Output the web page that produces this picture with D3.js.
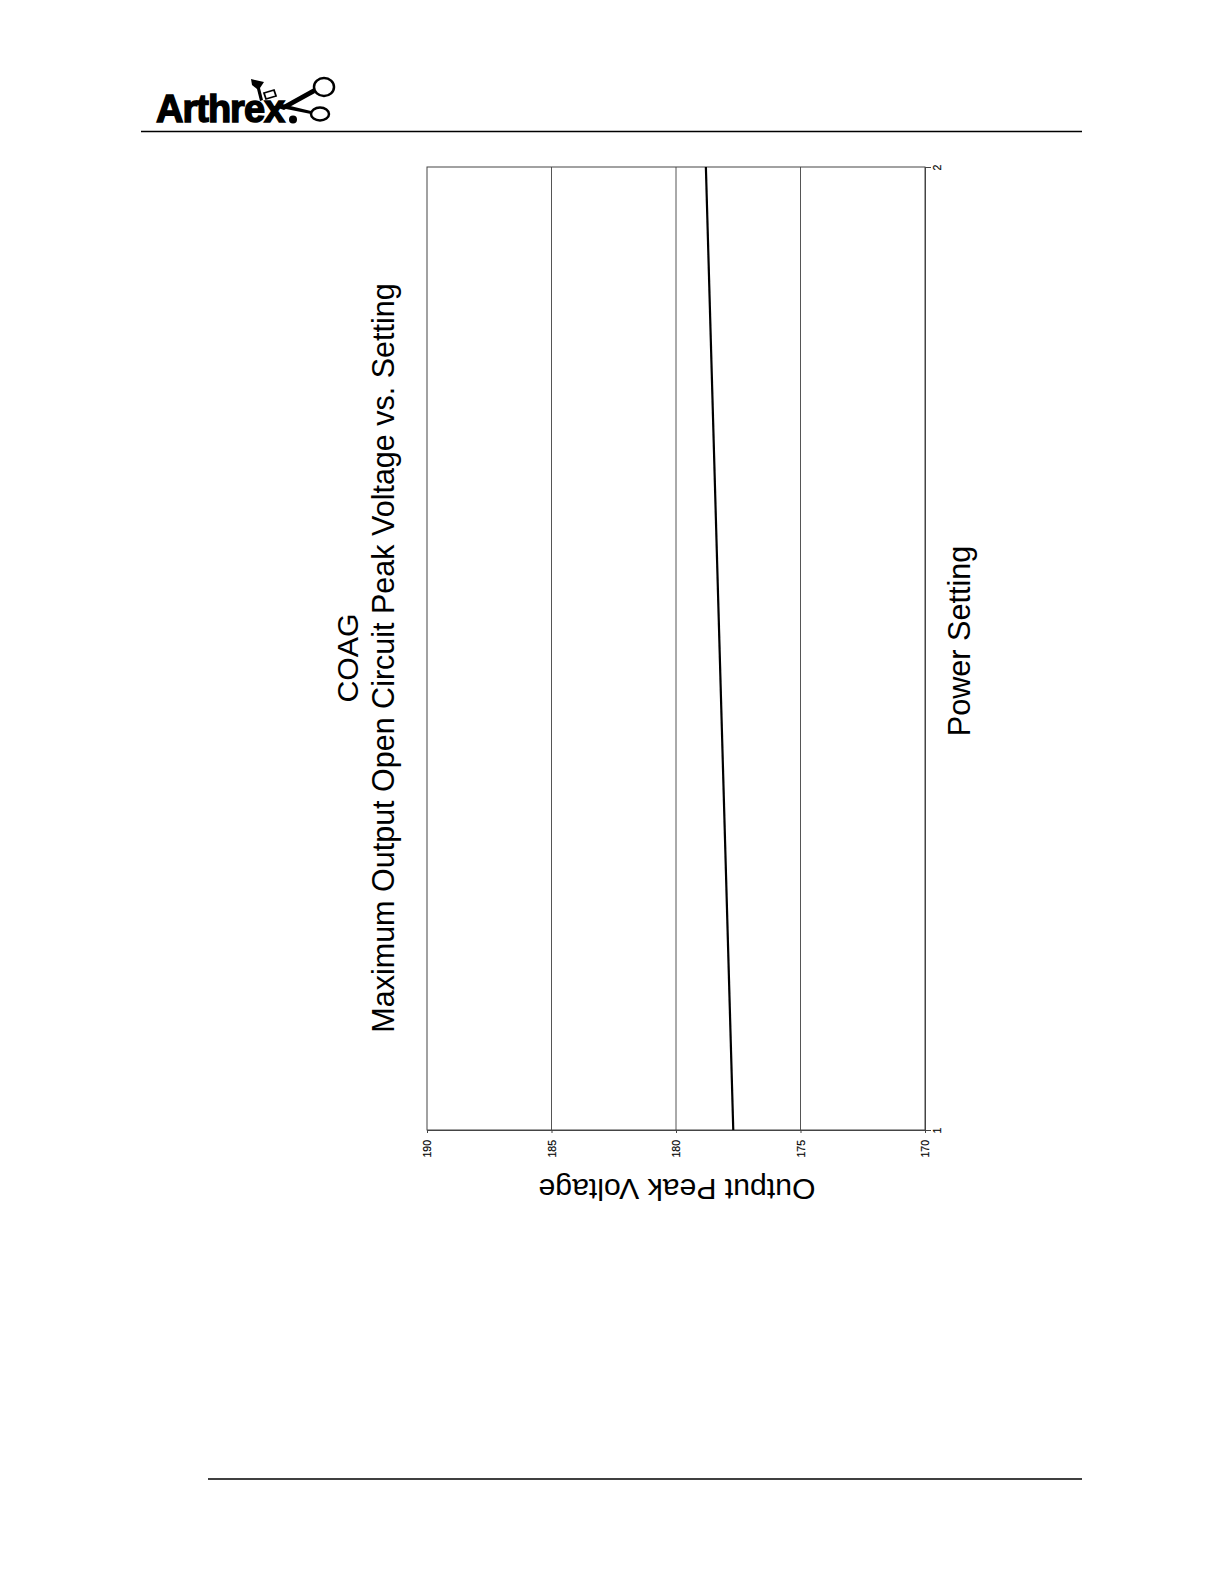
<!DOCTYPE html>
<html>
<head>
<meta charset="utf-8">
<script src="https://cdn.jsdelivr.net/npm/d3@7"></script>
<style>
  html, body { margin: 0; padding: 0; background: #fff; }
  svg { display: block; }
  text { font-family: "Liberation Sans", Arial, Helvetica, sans-serif; fill: #000; }
</style>
</head>
<body>
<svg id="chart" width="1224" height="1584"></svg>
<script>
// ---- data ----
const settings = [1, 2];
const peakVoltage = [177.7, 178.8];
const voltageTicks = [190, 185, 180, 175, 170];
const settingTicks = [1, 2];
const titleLines = ["COAG", "Maximum Output Open Circuit Peak Voltage vs. Setting"];
const xAxisTitle = "Power Setting";
const yAxisTitle = "Output Peak Voltage";
const logoText = "Arthrex";

const svg = d3.select("#chart");

// ---- page header / footer ----
svg.append("line").attr("x1", 141).attr("x2", 1082).attr("y1", 131.5).attr("y2", 131.5)
  .attr("stroke", "#000").attr("stroke-width", 1.3);
svg.append("line").attr("x1", 208).attr("x2", 1082).attr("y1", 1479).attr("y2", 1479)
  .attr("stroke", "#000").attr("stroke-width", 1.5);

// ---- logo ----
const logo = svg.append("g");
logo.append("text").attr("x", 156).attr("y", 122)
  .attr("font-size", 38).attr("font-weight", "bold")
  .attr("letter-spacing", -1.0)
  .attr("stroke", "#000").attr("stroke-width", 1.4)
  .text(logoText);
logo.append("circle").attr("cx", 293).attr("cy", 119.5).attr("r", 4).attr("fill", "#000");
logo.append("ellipse").attr("cx", 324).attr("cy", 87).attr("rx", 10).attr("ry", 9)
  .attr("fill", "none").attr("stroke", "#000").attr("stroke-width", 2.5);
logo.append("ellipse").attr("cx", 320).attr("cy", 114).attr("rx", 9).attr("ry", 6.5)
  .attr("fill", "none").attr("stroke", "#000").attr("stroke-width", 2.5);
// scissor blades
logo.append("path").attr("d", "M278,108 L314,88 L315,93 L284,110 Z").attr("fill", "#000");
logo.append("path").attr("d", "M282,104 L311,111 L311,114 L281,108 Z").attr("fill", "#000");
// arthroscope
logo.append("path").attr("d", "M251,79 L264,82 L260,88 L263,100 L260,101 L257,89 L252,85 Z").attr("fill", "#000");
logo.append("path").attr("d", "M264,93 L274,90 L276,96 L266,99 Z").attr("fill", "none")
  .attr("stroke", "#000").attr("stroke-width", 1.8);

// ---- scales (page oriented: chart rotated on page) ----
const x = d3.scaleLinear().domain([190, 170]).range([427, 925]);   // voltage, horizontal
const y = d3.scaleLinear().domain([1, 2]).range([1130, 167]);      // setting, vertical

// gridlines
svg.append("g").selectAll("line").data(voltageTicks.filter(v => v !== 190 && v !== 170))
  .join("line")
  .attr("x1", d => x(d)).attr("x2", d => x(d))
  .attr("y1", y(1)).attr("y2", y(2))
  .attr("stroke", "#555").attr("stroke-width", 1);

// plot border
svg.append("rect").attr("x", x(190)).attr("y", y(2))
  .attr("width", x(170) - x(190)).attr("height", y(1) - y(2))
  .attr("fill", "none").attr("stroke", "#444").attr("stroke-width", 1);

// voltage axis (bottom of page)
const vAxis = svg.append("g").attr("transform", `translate(0,${y(1)})`)
  .call(d3.axisBottom(x).tickValues(voltageTicks).tickSize(3).tickFormat(d3.format("d")));
vAxis.select(".domain").attr("stroke", "#444");
vAxis.selectAll(".tick line").attr("stroke", "#444");
vAxis.selectAll(".tick text")
  .attr("font-family", "'Liberation Sans', Arial, sans-serif")
  .attr("font-size", 10.5).attr("fill", "#111")
  .attr("stroke", "#111").attr("stroke-width", 0.2)
  .attr("text-anchor", "end")
  .attr("dy", "0.35em")
  .attr("y", 0)
  .attr("transform", "translate(0,10) rotate(-90)");

// setting axis (right of page)
const sAxis = svg.append("g").attr("transform", `translate(${x(170)},0)`)
  .call(d3.axisRight(y).tickValues(settingTicks).tickSize(6).tickFormat(d3.format("d")));
sAxis.select(".domain").attr("stroke", "#444");
sAxis.selectAll(".tick line").attr("stroke", "#444");
sAxis.selectAll(".tick text")
  .attr("font-family", "'Liberation Sans', Arial, sans-serif")
  .attr("font-size", 10.5).attr("fill", "#111")
  .attr("stroke", "#111").attr("stroke-width", 0.2)
  .attr("text-anchor", "middle")
  .attr("x", 0).attr("dy", 0)
  .attr("transform", "translate(16,0) rotate(-90)");

// data line
const pts = settings.map((s, i) => [s, peakVoltage[i]]);
svg.append("path").datum(pts)
  .attr("fill", "none").attr("stroke", "#000").attr("stroke-width", 2.2)
  .attr("d", d3.line().x(d => x(d[1])).y(d => y(d[0])));

// titles
svg.append("text").attr("transform", "translate(358,658) rotate(-90)")
  .attr("text-anchor", "middle").attr("font-size", 30.3).text(titleLines[0]);
svg.append("text").attr("transform", "translate(394,658) rotate(-90)")
  .attr("text-anchor", "middle").attr("font-size", 30.5).text(titleLines[1]);
svg.append("text").attr("transform", "translate(970,641) rotate(-90)")
  .attr("text-anchor", "middle").attr("font-size", 30.6).text(xAxisTitle);
svg.append("text").attr("transform", "translate(677,1179) rotate(180)")
  .attr("text-anchor", "middle").attr("font-size", 30.2).text(yAxisTitle);
</script>
</body>
</html>
